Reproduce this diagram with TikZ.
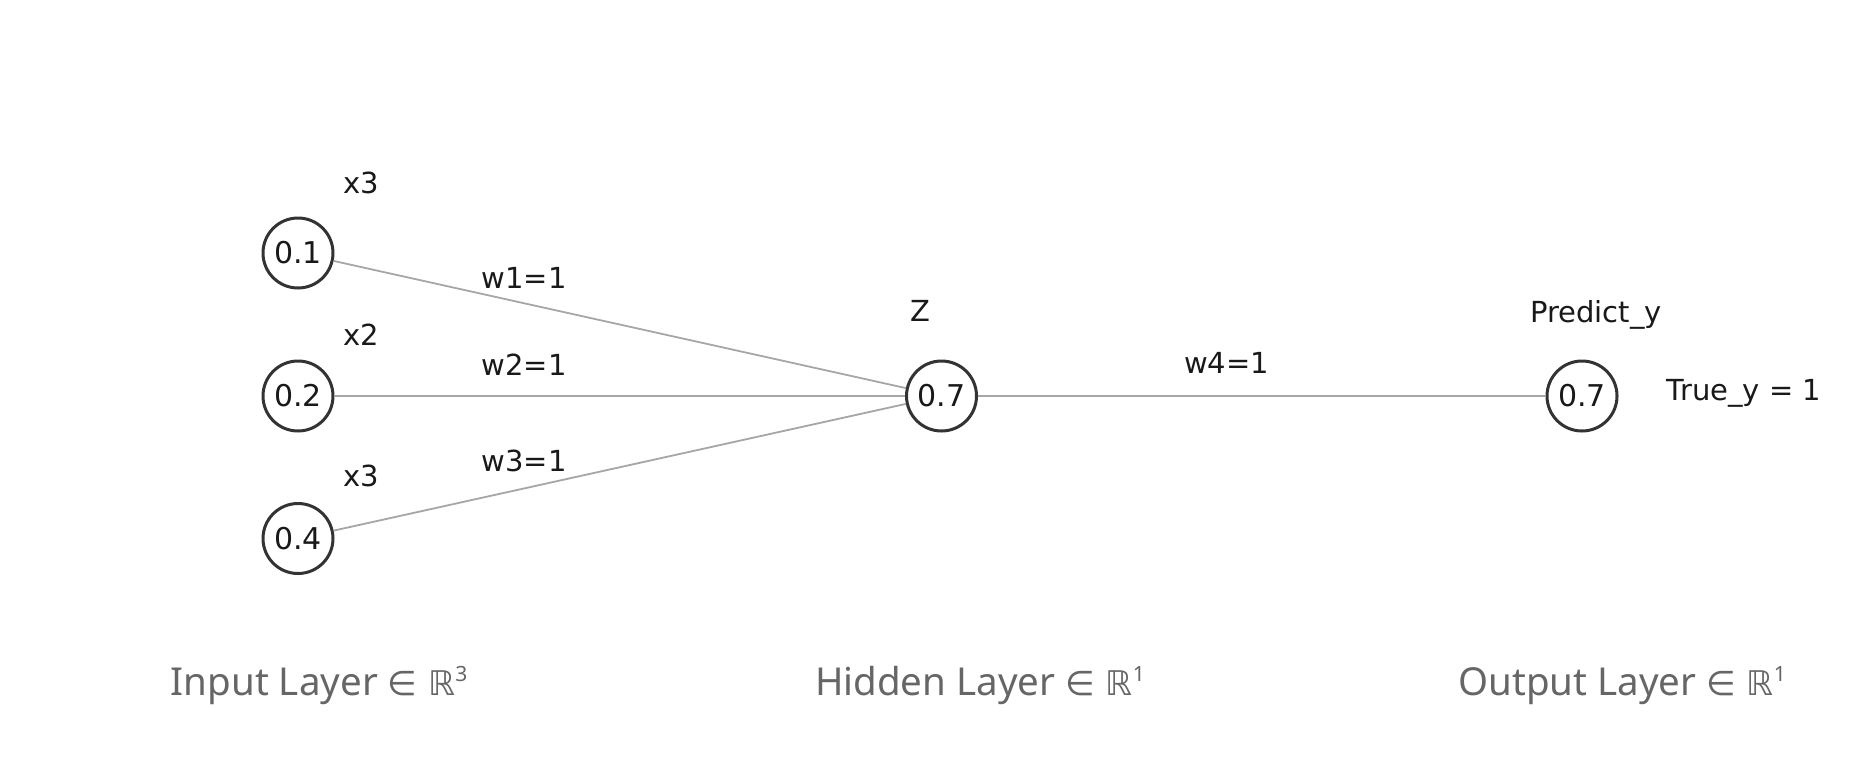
\documentclass[tikz,border=0pt]{standalone}
\usepackage{fontspec}
\setmainfont{Noto Sans}
\newfontfamily\dv{DejaVu Sans}
\begin{document}
\begin{tikzpicture}[x=1pt,y=-1pt,
  neuron/.style={circle,draw=black!80,line width=3pt,minimum size=70pt,inner sep=0pt,font=\dv\fontsize{30}{32}\selectfont,text=black!90},
  lbl/.style={anchor=base,font=\dv\fontsize{29}{32}\selectfont,text=black!90,inner sep=0pt},
  layer/.style={anchor=base,font=\fontsize{38.5}{42}\selectfont,text=black!60,inner sep=0pt},
  conn/.style={draw=black!35,line width=1.8pt}]
\useasboundingbox (0,0) rectangle (1873,756);
\node[neuron] (i1) at (298,253) {0.1};
\node[neuron] (i2) at (298,396) {0.2};
\node[neuron] (i3) at (298,538.5) {0.4};
\node[neuron] (h) at (941.5,396) {0.7};
\node[neuron] (o) at (1582,396) {0.7};
\draw[conn] (i1) -- (h);
\draw[conn] (i2) -- (h);
\draw[conn] (i3) -- (h);
\draw[conn] (h) -- (o);
\node[lbl] (l1) at (361,193) {x3};
\node[lbl] (l2) at (361,345) {x2};
\node[lbl] (l3) at (361,486.7) {x3};
\node[lbl] (w1) at (524,288.3) {w1=1};
\node[lbl] (w2) at (524,375) {w2=1};
\node[lbl] (w3) at (524,471.7) {w3=1};
\node[lbl] (z) at (920,321.7) {Z};
\node[lbl] (w4) at (1226.5,373.3) {w4=1};
\node[lbl] (py) at (1596,322) {Predict\_y};
\node[lbl] (ty) at (1744,400.7) {True\_y = 1};
\node[layer] (L1) at (319,695) {Input Layer {\dv\fontsize{34}{36}\selectfont ∈ ℝ}\raisebox{14pt}{\fontsize{21}{24}\selectfont 3}};
\node[layer] (L2) at (980,695) {Hidden Layer {\dv\fontsize{34}{36}\selectfont ∈ ℝ}\raisebox{14pt}{\fontsize{21}{24}\selectfont 1}};
\node[layer] (L3) at (1622,695) {Output Layer {\dv\fontsize{34}{36}\selectfont ∈ ℝ}\raisebox{14pt}{\fontsize{21}{24}\selectfont 1}};
\end{tikzpicture}
\end{document}
